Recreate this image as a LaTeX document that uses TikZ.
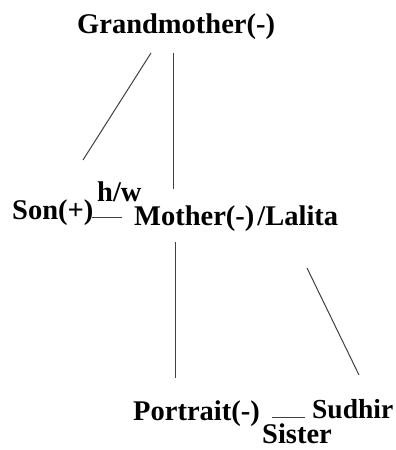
\documentclass[tikz,border=0pt]{standalone}
\usepackage{fontspec}
\setmainfont{Liberation Serif}
\begin{document}
\begin{tikzpicture}[x=1pt,y=-1pt,
  lbl/.style={anchor=base west,inner sep=0pt,font=\fontsize{28.5}{30}\selectfont\bfseries},
  link/.style={draw=black!75,line width=1pt}]
\useasboundingbox (0,0) rectangle (396,450);
\node[lbl] (gm) at (77,33) {Grandmother(-)};
\node[lbl] (son) at (12,219) {Son(+)};
\node[lbl] (hw) at (97,201) {h/w};
\node[lbl] (mo) at (134,225) {Mother(-)\kern3pt/Lalita};
\node[lbl] (po) at (133,420) {Portrait(-)};
\node[lbl,font=\fontsize{27.5}{30}\selectfont\bfseries] (su) at (312,418) {Sudhir};
\node[lbl] (si) at (262,443.5) {Sister};
\coordinate (gmA) at (151,53);
\coordinate (sonA) at (83,160);
\coordinate (gmB) at (173.5,53);
\coordinate (moA) at (173.5,189);
\coordinate (sonR) at (92,217.5);
\coordinate (moL) at (122,217.5);
\coordinate (moB) at (175,242);
\coordinate (poA) at (175,378);
\coordinate (moR) at (307,268);
\coordinate (suA) at (359,375);
\coordinate (poR) at (272,417);
\coordinate (suL) at (305,417);
\draw[link] (gmA) -- (sonA);
\draw[link] (gmB) -- (moA);
\draw[link] (sonR) -- (moL);
\draw[link] (moB) -- (poA);
\draw[link] (moR) -- (suA);
\draw[link] (poR) -- (suL);
\end{tikzpicture}
\end{document}
